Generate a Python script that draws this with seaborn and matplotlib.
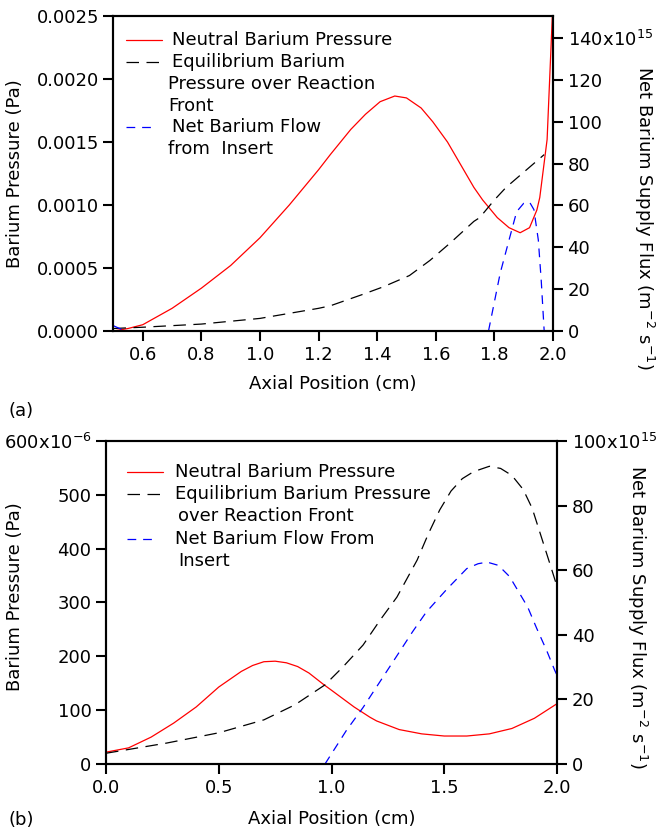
import numpy as np
import pandas as pd
import matplotlib
matplotlib.use('Agg')
import matplotlib.pyplot as plt
from matplotlib.lines import Line2D
import seaborn as sns

sns.set_style("ticks")
plt.rcParams['font.family'] = ['DejaVu Sans']
plt.rcParams['font.size'] = 13
plt.rcParams['mathtext.default'] = 'regular'
plt.rcParams['text.color'] = 'black'
plt.rcParams['axes.labelcolor'] = 'black'

# ---- panel (a) data ----
a_red_x = [0.50, 0.55, 0.60, 0.70, 0.80, 0.90, 1.00, 1.10, 1.20, 1.24, 1.31, 1.36, 1.41, 1.46,
           1.50, 1.55, 1.59, 1.64, 1.69, 1.73, 1.76, 1.81, 1.85, 1.888, 1.92, 1.945, 1.955,
           1.98, 2.00]
a_red_y = [0.0, 0.00002, 0.00005, 0.00018, 0.00034, 0.00052, 0.00074, 0.00100, 0.00128,
           0.00140, 0.00160, 0.00172, 0.00182, 0.001865, 0.00185, 0.00177, 0.00166, 0.00150,
           0.00130, 0.00114, 0.00104, 0.00090, 0.00082, 0.00078, 0.00082, 0.00096, 0.00106,
           0.00152, 0.00262]
a_eq_x = [0.50, 0.60, 0.80, 1.00, 1.20, 1.24, 1.35, 1.42, 1.51, 1.58, 1.65, 1.73, 1.75, 1.80,
          1.84, 1.90, 1.955, 1.97]
a_eq_y = [0.00002, 0.00003, 0.000055, 0.00010, 0.00018, 0.00020, 0.00029, 0.00035, 0.00044,
          0.00056, 0.00070, 0.00087, 0.00090, 0.00104, 0.00114, 0.00126, 0.00137, 0.00140]
a_flow_x1 = [0.50, 0.54]
a_flow_y1 = [2.5, 0.0]
a_flow_x2 = [1.78, 1.82, 1.853, 1.876, 1.90, 1.92, 1.935, 1.95, 1.96, 1.97]
a_flow_y2 = [0.0, 27.7, 45.0, 57.0, 61.0, 61.6, 58.0, 43.5, 24.0, 0.0]

# ---- panel (b) data ----
b_red_x = [0.0, 0.1, 0.2, 0.3, 0.4, 0.5, 0.6, 0.65, 0.7, 0.75, 0.8, 0.85, 0.9, 0.964, 1.0,
           1.1, 1.17, 1.2, 1.3, 1.4, 1.5, 1.6, 1.7, 1.8, 1.9, 2.0]
b_red_y = [22, 30, 50, 76, 106, 143, 172, 183, 190, 191, 188, 181, 169, 148, 137,
           106, 87, 80, 64, 56, 52, 52, 56, 66, 85, 112]
b_eq_x = [0.0, 0.27, 0.5, 0.7, 0.838, 0.971, 1.05, 1.14, 1.215, 1.29, 1.38, 1.43, 1.48, 1.53,
          1.58, 1.63, 1.70, 1.75, 1.80, 1.85, 1.89, 1.97, 2.0]
b_eq_y = [20, 39, 58, 82, 110, 147, 180, 221, 267, 310, 379, 428, 472, 507,
          530, 543, 553, 549, 536, 510, 475, 370, 330]
b_flow_x = [0.971, 1.067, 1.14, 1.215, 1.29, 1.36, 1.42, 1.51, 1.60, 1.65, 1.69, 1.74, 1.79,
            1.87, 1.91, 1.955, 1.99, 2.0]
b_flow_y = [0.0, 10.5, 17.5, 25.5, 33.5, 41.0, 47.0, 54.0, 60.5, 62.0, 62.5, 61.5, 58.0,
            48.6, 42.0, 35.0, 29.0, 27.5]

BLACK_DASH = (0, (10, 6))
BLUE_DASH = (0, (7, 5.5))
LW = 0.9
FS = 13

fig = plt.figure(figsize=(6.59, 8.30), dpi=100)

def style_axes(ax, ax2, lx, ly, rx, ry, xpad):
    for a in (ax, ax2):
        for s in a.spines.values():
            s.set_linewidth(1.5)
            s.set_color('black')
        a.tick_params(direction='out', length=7, width=1.5, colors='black', labelsize=FS)
    ax.set_xlabel('Axial Position (cm)', fontsize=FS)
    ax.set_ylabel('Barium Pressure (Pa)', fontsize=FS)
    ax.yaxis.set_label_coords(lx, ly)
    ax2.set_ylabel('Net Barium Supply Flux (m$^{-2}$ s$^{-1}$)', fontsize=FS, rotation=270,
                   va='center')
    ax2.yaxis.set_label_coords(rx, ry)
    ax.xaxis.labelpad = xpad

def fig_legend(px0, ptext, rows, items):
    # items: (row index, line style, color, handle end, text lines with x offsets)
    for row, ls, col, end, lines in items:
        y = 1 - rows[row] / 830
        fig.add_artist(Line2D([px0 / 659, end / 659], [y, y], color=col, lw=LW,
                              linestyle=ls, transform=fig.transFigure))
        for k, (dx, txt) in enumerate(lines):
            fig.text((ptext + dx) / 659, 1 - rows[row + k] / 830, txt, fontsize=FS,
                     va='center', ha='left', color='black')

# ===== (a) =====
axA = fig.add_axes([0.1722, 0.6012, 0.6669, 0.3795])
axA2 = axA.twinx()
sns.lineplot(x=a_red_x, y=a_red_y, ax=axA, color='red', linewidth=LW)
sns.lineplot(x=a_eq_x, y=a_eq_y, ax=axA, color='black', linewidth=LW, linestyle=BLACK_DASH)
sns.lineplot(x=a_flow_x1, y=a_flow_y1, ax=axA2, color='blue', linewidth=LW, linestyle=BLUE_DASH)
sns.lineplot(x=a_flow_x2, y=a_flow_y2, ax=axA2, color='blue', linewidth=LW, linestyle=BLUE_DASH)
axA.set_xlim(0.5, 2.0)
axA.set_ylim(0, 0.0025)
axA2.set_ylim(0, 150.5)
axA.set_xticks([0.6, 0.8, 1.0, 1.2, 1.4, 1.6, 1.8, 2.0])
axA.set_xticklabels(['0.6', '0.8', '1.0', '1.2', '1.4', '1.6', '1.8', '2.0'])
a_left_ticks = [0.0, 0.0005, 0.0010, 0.0015, 0.0020, 0.0025]
axA.set_yticks(a_left_ticks)
axA.set_yticklabels(['%.4f' % v for v in a_left_ticks])
a_right_ticks = [0, 20, 40, 60, 80, 100, 120, 140]
axA2.set_yticks(a_right_ticks)
axA2.set_yticklabels([str(v) for v in a_right_ticks[:-1]] + ['140x10$^{15}$'])
style_axes(axA, axA2, -0.204, 0.5, 1.207, 0.36, 8)

fig_legend(126, 172, [40, 62, 84, 106, 127, 149], [
    (0, '-', 'red', 162, [(0, 'Neutral Barium Pressure')]),
    (1, BLACK_DASH, 'black', 162, [(0, 'Equilibrium Barium'), (-4, 'Pressure over Reaction'),
                                   (-4, 'Front')]),
    (4, BLUE_DASH, 'blue', 154, [(0, 'Net Barium Flow'), (-4, 'from  Insert')]),
])
fig.text(8 / 659, 1 - 411 / 830, '(a)', fontsize=FS, va='center')

# ===== (b) =====
axB = fig.add_axes([0.1609, 0.0795, 0.6843, 0.3892])
axB2 = axB.twinx()
sns.lineplot(x=b_red_x, y=b_red_y, ax=axB, color='red', linewidth=LW)
sns.lineplot(x=b_eq_x, y=b_eq_y, ax=axB, color='black', linewidth=LW, linestyle=BLACK_DASH)
sns.lineplot(x=b_flow_x, y=b_flow_y, ax=axB2, color='blue', linewidth=LW, linestyle=BLUE_DASH)
axB.set_xlim(0.0, 2.0)
axB.set_ylim(0, 600)
axB2.set_ylim(0, 100)
axB.set_xticks([0.0, 0.5, 1.0, 1.5, 2.0])
axB.set_xticklabels(['0.0', '0.5', '1.0', '1.5', '2.0'])
b_left_ticks = [0, 100, 200, 300, 400, 500, 600]
axB.set_yticks(b_left_ticks)
axB.set_yticklabels([str(v) for v in b_left_ticks[:-1]] + ['600x10$^{-6}$'])
b_right_ticks = [0, 20, 40, 60, 80, 100]
axB2.set_yticks(b_right_ticks)
axB2.set_yticklabels([str(v) for v in b_right_ticks[:-1]] + ['100x10$^{15}$'])
style_axes(axB, axB2, -0.182, 0.517, 1.177, 0.455, 10)

fig_legend(127, 175, [472, 494, 516, 539, 561], [
    (0, '-', 'red', 163, [(0, 'Neutral Barium Pressure')]),
    (1, BLACK_DASH, 'black', 163, [(0, 'Equilibrium Barium Pressure'),
                                   (3, 'over Reaction Front')]),
    (3, BLUE_DASH, 'blue', 155, [(0, 'Net Barium Flow From'), (3, 'Insert')]),
])
fig.text(8 / 659, 1 - 820 / 830, '(b)', fontsize=FS, va='center')

fig.savefig('out.png', dpi=100)
